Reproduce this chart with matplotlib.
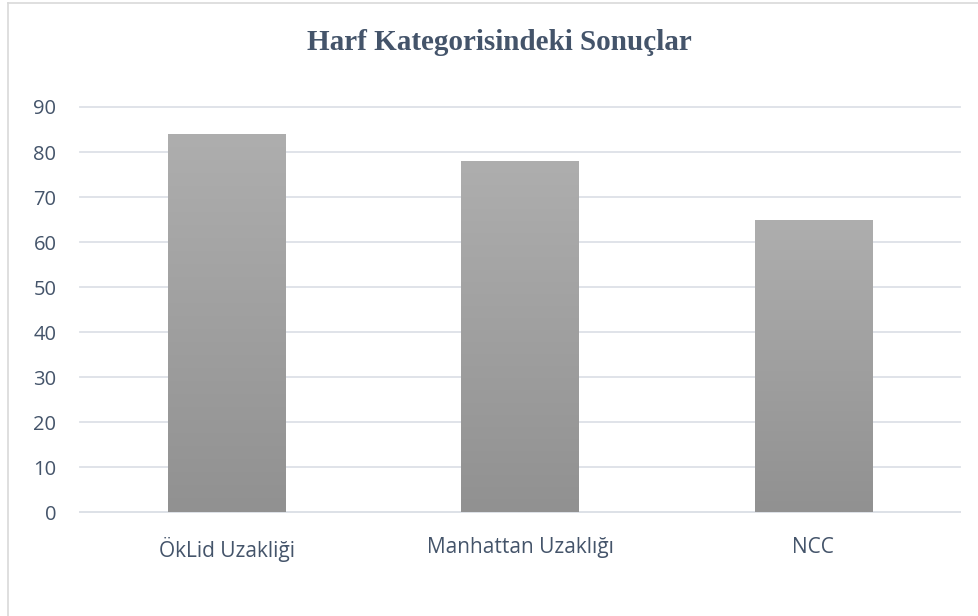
import numpy as np
import matplotlib
matplotlib.use('Agg')
import matplotlib.pyplot as plt
from matplotlib.colors import LinearSegmentedColormap
from matplotlib.lines import Line2D

categories = ['ÖkLid Uzakliği', 'Manhattan Uzaklığı', 'NCC']
values = [84, 78, 65]
yticks = [0, 10, 20, 30, 40, 50, 60, 70, 80, 90]
title = 'Harf Kategorisindeki Sonuçlar'

text_color = '#44546A'
grid_color = '#DDE1E7'

fig = plt.figure(figsize=(9.79, 6.16), dpi=100)
ax = fig.add_axes([80 / 979, 1 - 512.3 / 616, 880 / 979, (512.3 - 107) / 616])

x = np.arange(len(categories))
bars = ax.bar(x, values, width=0.40, color='none', edgecolor='none', zorder=3)

# vertical grey gradient inside each bar, lighter at the top
grad_cmap = LinearSegmentedColormap.from_list('bargrad', ['#919191', '#AEAEAE'])
grad = np.linspace(0, 1, 256).reshape(-1, 1)
for b in bars:
    x0, y0 = b.get_x(), b.get_y()
    im = ax.imshow(grad, cmap=grad_cmap, origin='lower', aspect='auto',
                   extent=[x0, x0 + b.get_width(), y0, y0 + b.get_height()],
                   zorder=3, interpolation='bilinear')
    im.set_clip_path(b)

ax.set_xlim(-0.5, len(categories) - 0.5)
ax.set_ylim(0, 90)
ax.set_yticks(yticks)
ax.set_xticks(x)
ax.set_xticklabels(categories)

ax.yaxis.grid(True, color=grid_color, linewidth=1.3, zorder=0)
for gl in ax.get_ygridlines():
    gl.set_clip_on(False)
ax.set_axisbelow(True)

for s in ['top', 'right', 'left']:
    ax.spines[s].set_visible(False)
ax.spines['bottom'].set_color(grid_color)
ax.spines['bottom'].set_linewidth(1.3)

ax.tick_params(axis='both', length=0, labelsize=14.5, labelcolor=text_color)
ax.tick_params(axis='y', pad=17)
ax.tick_params(axis='x', pad=18)
for lab in ax.get_xticklabels():
    lab.set_fontsize(15)
for lab in ax.get_xticklabels() + ax.get_yticklabels():
    lab.set_fontfamily('Open Sans')

fig.text(499.5 / 979, 1 - 42 / 616, title, ha='center', va='center',
         fontsize=21, fontweight='bold', family='Liberation Serif', color=text_color)

# chart area frame (left and top edges fall inside the image)
fig.add_artist(Line2D([8.5 / 979, 8.5 / 979], [0, 1 - 2.5 / 616], transform=fig.transFigure,
                      color='#D9D9D9', linewidth=1.2))
fig.add_artist(Line2D([8.5 / 979, 1], [1 - 2.5 / 616, 1 - 2.5 / 616], transform=fig.transFigure,
                      color='#D9D9D9', linewidth=1.2))

fig.savefig('out.png', dpi=100, facecolor='white')
